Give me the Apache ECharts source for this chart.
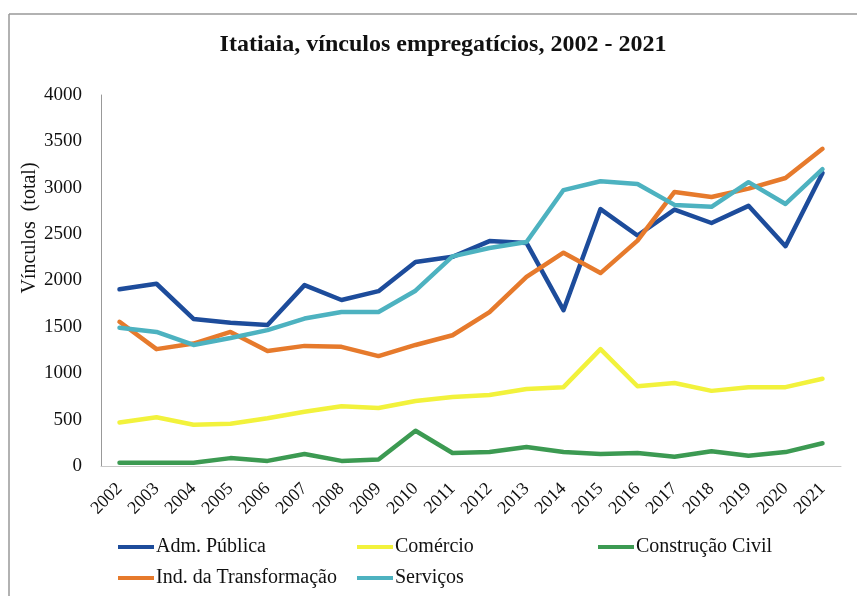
<!DOCTYPE html>
<html>
<head>
<meta charset="utf-8">
<script src="https://cdn.jsdelivr.net/npm/echarts@6/dist/echarts.min.js"></script>
<style>
html,body{margin:0;padding:0;background:#fff;}
#chart{width:857px;height:596px;}
</style>
</head>
<body>
<div id="chart"></div>
<script>
const years = ['2002','2003','2004','2005','2006','2007','2008','2009','2010','2011','2012','2013','2014','2015','2016','2017','2018','2019','2020','2021'];
const admPublica = [1905, 1965, 1585, 1545, 1520, 1950, 1790, 1885, 2200, 2255, 2425, 2405, 1680, 2770, 2485, 2765, 2620, 2805, 2370, 3160];
const comercio = [470, 525, 445, 455, 515, 585, 645, 625, 700, 745, 765, 830, 850, 1260, 860, 895, 810, 850, 850, 940];
const construcaoCivil = [35, 35, 35, 85, 55, 130, 55, 70, 380, 140, 150, 205, 150, 130, 140, 100, 160, 110, 150, 245];
const indTransformacao = [1555, 1260, 1320, 1445, 1240, 1295, 1285, 1185, 1305, 1410, 1660, 2040, 2300, 2080, 2430, 2955, 2900, 2990, 3105, 3420];
const servicos = [1490, 1445, 1305, 1380, 1465, 1590, 1660, 1660, 1890, 2260, 2350, 2415, 2975, 3070, 3040, 2815, 2795, 3060, 2825, 3200];
const seriesNames = ['Adm. Pública','Comércio','Construção Civil','Ind. da Transformação','Serviços'];
const seriesData = [admPublica, comercio, construcaoCivil, indTransformacao, servicos];
const colors = ['#1d4c9b','#f2f23c','#3c9a52','#e67a2c','#4db2c0'];
const serif = '"Liberation Serif","Times New Roman",serif';

const chart = echarts.init(document.getElementById('chart'), null, {renderer:'canvas'});

const legendPos = [[118,537],[357,537],[598,537],[118,568],[357,568]];
const legends = seriesNames.map((n,i)=>({
  data:[n], left:legendPos[i][0], top:legendPos[i][1], padding:0,
  icon:'rect', itemWidth:36, itemHeight:4, itemGap:0,
  textStyle:{fontFamily:serif, fontSize:20, color:'#111', padding:[0,0,0,-3]}
}));

chart.setOption({
  animation:false,
  color: colors,
  title:{
    text:'Itatiaia, vínculos empregatícios, 2002 - 2021',
    left:438, top:28, textAlign:'center',
    textStyle:{fontFamily:serif, fontSize:24, fontWeight:'bold', color:'#111'}
  },
  legend: legends,
  grid:{left:101, right:16, top:95, bottom:130, containLabel:false},
  xAxis:{
    type:'category', data:years, boundaryGap:true,
    axisLine:{show:true, lineStyle:{color:'#c8c8c8', width:1}},
    axisTick:{show:false},
    axisLabel:{rotate:45, fontFamily:serif, fontSize:18, color:'#111', margin:20, interval:0}
  },
  yAxis:{
    type:'value', min:0, max:4000, interval:500,
    axisLine:{show:true, lineStyle:{color:'#999', width:1}},
    axisTick:{show:false},
    splitLine:{show:false},
    axisLabel:{fontFamily:serif, fontSize:19, color:'#111', margin:19, formatter:(v)=>String(v)}
  },
  graphic:[
    {type:'line', shape:{x1:9,y1:14,x2:857,y2:14}, style:{stroke:'#999', lineWidth:1.5}},
    {type:'line', shape:{x1:9,y1:14,x2:9,y2:596}, style:{stroke:'#999', lineWidth:1.5}},
    {type:'text', x:30, y:228, rotation:Math.PI/2,
     style:{text:'Vínculos  (total)', fontFamily:serif, fontSize:20, fill:'#111', textAlign:'center', textVerticalAlign:'middle'}}
  ],
  series: seriesNames.map((n,i)=>({
    name:n, type:'line', data:seriesData[i], showSymbol:false, symbol:'none',
    lineStyle:{width:4.5, color:colors[i], cap:'round', join:'round'},
    itemStyle:{color:colors[i]}
  }))
});
</script>
</body>
</html>
